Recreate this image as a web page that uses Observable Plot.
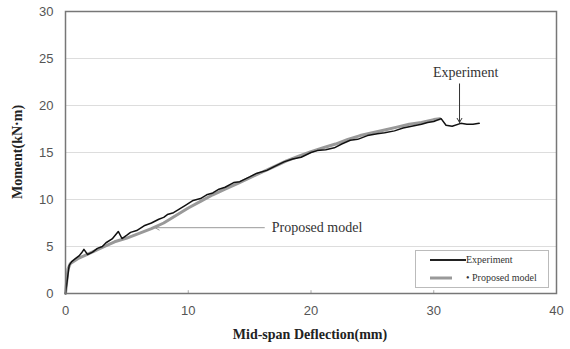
<!DOCTYPE html>
<html>
<head>
<meta charset="utf-8">
<script src="https://cdn.jsdelivr.net/npm/d3@7"></script>
<script src="https://cdn.jsdelivr.net/npm/@observablehq/plot@0.6"></script>
<style>
  html, body { margin: 0; padding: 0; background: #fff; }
  #wrap { position: relative; width: 570px; height: 349px; }
  #legend { position: absolute; left: 415px; top: 250px; width: 134px; height: 38px;
    border: 1px solid #bbb; background: #fff; font-family: "Liberation Serif", serif; font-size: 10px; color: #333; box-sizing: border-box; }
  .row { position: absolute; left: 14px; display: flex; align-items: center; }
  .row svg { display: block; }
</style>
</head>
<body>
<div id="wrap"></div>
<script>
// Experiment curve (deflection mm, moment kN·m)
const expX = [0, 0.15, 0.3, 0.5, 0.8, 1.1, 1.3, 1.5, 1.8, 2.2, 2.6, 3.0, 3.3, 3.8, 4.3, 4.6, 5.0, 5.3, 5.8, 6.4, 7.0, 7.6, 8.0, 8.3, 8.8, 9.3, 9.8, 10.4, 11.0, 11.5, 12.0, 12.5, 13.0, 13.7, 14.2, 15.0, 15.6, 16.4, 17.0, 17.8, 18.5, 19.2, 20.0, 20.5, 21.2, 21.9, 22.5, 23.2, 23.8, 24.6, 25.4, 26.0, 26.8, 27.5, 28.2, 29.0, 29.5, 30.0, 30.6, 31.0, 31.5, 32.2, 32.7, 33.2, 33.7];
const expY = [0, 1.5, 3.0, 3.4, 3.7, 4.0, 4.3, 4.7, 4.15, 4.4, 4.8, 5.0, 5.4, 5.8, 6.6, 5.85, 6.2, 6.5, 6.7, 7.2, 7.5, 7.9, 8.1, 8.4, 8.6, 9.0, 9.4, 9.9, 10.1, 10.5, 10.7, 11.1, 11.3, 11.8, 11.9, 12.4, 12.8, 13.1, 13.5, 14.0, 14.3, 14.5, 15.0, 15.2, 15.3, 15.5, 15.9, 16.3, 16.4, 16.8, 17.0, 17.1, 17.3, 17.6, 17.8, 18.0, 18.2, 18.3, 18.6, 17.9, 17.8, 18.1, 18.0, 18.0, 18.1];
// Proposed model curve
const modX = [0, 0.2, 0.4, 1.0, 2.0, 3.0, 4.0, 5.0, 6.0, 7.0, 8.0, 9.0, 10.0, 11.0, 12.0, 13.0, 14.0, 15.0, 16.0, 17.0, 18.0, 19.0, 20.0, 21.0, 22.0, 23.0, 24.0, 25.0, 26.0, 27.0, 28.0, 29.0, 30.0, 30.5];
const modY = [0, 2.6, 3.2, 3.7, 4.3, 4.9, 5.5, 5.9, 6.4, 6.9, 7.5, 8.3, 9.1, 9.8, 10.5, 11.1, 11.7, 12.3, 12.9, 13.5, 14.1, 14.6, 15.1, 15.5, 15.9, 16.4, 16.8, 17.1, 17.4, 17.7, 18.0, 18.2, 18.5, 18.6];
const xTicks = [0, 10, 20, 30, 40];
const yTicks = [0, 5, 10, 15, 20, 25, 30];
const gridY = [5, 10, 15, 20, 25];
const innerTicks = [10, 20, 30];
const annExp = {label: "Experiment", tx: 32.6, ty: 23.5, x: 32.1, y1: 22.3, y2: 18.2};
const annMod = {label: "Proposed model", tx: 16.8, ty: 7.0, x1: 16.2, x2: 7.3, y: 7.0};

const expData = expX.map((x, i) => ({x, y: expY[i]}));
const modData = modX.map((x, i) => ({x, y: modY[i]}));

const chart = Plot.plot({
  width: 570, height: 349,
  marginLeft: 65, marginRight: 14, marginTop: 11, marginBottom: 56,
  style: {fontFamily: "Liberation Sans, Arial, sans-serif", fontSize: "13px", color: "#555", background: "#fff"},
  x: {type: "linear", domain: [0, 40]},
  y: {type: "linear", domain: [0, 30]},
  marks: [
    Plot.ruleY(gridY, {stroke: "#ddd", strokeWidth: 1}),
    Plot.axisY({ticks: yTicks, tickSize: 0, tickPadding: 12, label: null, fill: "#555"}),
    Plot.axisX({ticks: xTicks, tickSize: 0, tickPadding: 12, label: null, fill: "#555"}),
    Plot.ruleX(innerTicks, {y1: 0, y2: 0.3, stroke: "#aaa"}),
    Plot.line(modData, {x: "x", y: "y", stroke: "#999", strokeWidth: 3}),
    Plot.line(expData, {x: "x", y: "y", stroke: "#111", strokeWidth: 1.5}),
    Plot.arrow([annExp], {x1: "x", x2: "x", y1: "y1", y2: "y2", stroke: "#333", strokeWidth: 1, headLength: 7}),
    Plot.text([annExp], {x: "tx", y: "ty", text: "label", fontFamily: "Liberation Serif, serif", fontSize: 14, fill: "#333"}),
    Plot.arrow([annMod], {x1: "x1", x2: "x2", y1: "y", y2: "y", stroke: "#999", strokeWidth: 1, headLength: 7}),
    Plot.text([annMod], {x: "tx", y: "ty", text: "label", textAnchor: "start", fontFamily: "Liberation Serif, serif", fontSize: 14, fill: "#333"}),
    Plot.frame({stroke: "#777", strokeWidth: 1.5})
  ]
});

// axis titles as SVG text
const svg = d3.select(chart);
svg.append("text").attr("x", 310).attr("y", 339).attr("text-anchor", "middle")
  .attr("font-family", "Liberation Serif, serif").attr("font-weight", "bold").attr("font-size", 14).attr("fill", "#222")
  .text("Mid-span Deflection(mm)");
svg.append("text").attr("transform", "translate(22,152) rotate(-90)").attr("text-anchor", "middle")
  .attr("font-family", "Liberation Serif, serif").attr("font-weight", "bold").attr("font-size", 14).attr("fill", "#222")
  .text("Moment(kN·m)");

const wrap = document.getElementById("wrap");
wrap.appendChild(chart);

const legend = document.createElement("div");
legend.id = "legend";
legend.innerHTML = `
  <div class="row" style="top:3px"><svg width="36" height="10"><line x1="0" y1="5" x2="36" y2="5" stroke="#222" stroke-width="2"/></svg><span>Experiment</span></div>
  <div class="row" style="top:21px"><svg width="36" height="10"><line x1="0" y1="5" x2="22" y2="5" stroke="#999" stroke-width="3"/></svg><span>&#8226; Proposed model</span></div>`;
wrap.appendChild(legend);
</script>
</body>
</html>
